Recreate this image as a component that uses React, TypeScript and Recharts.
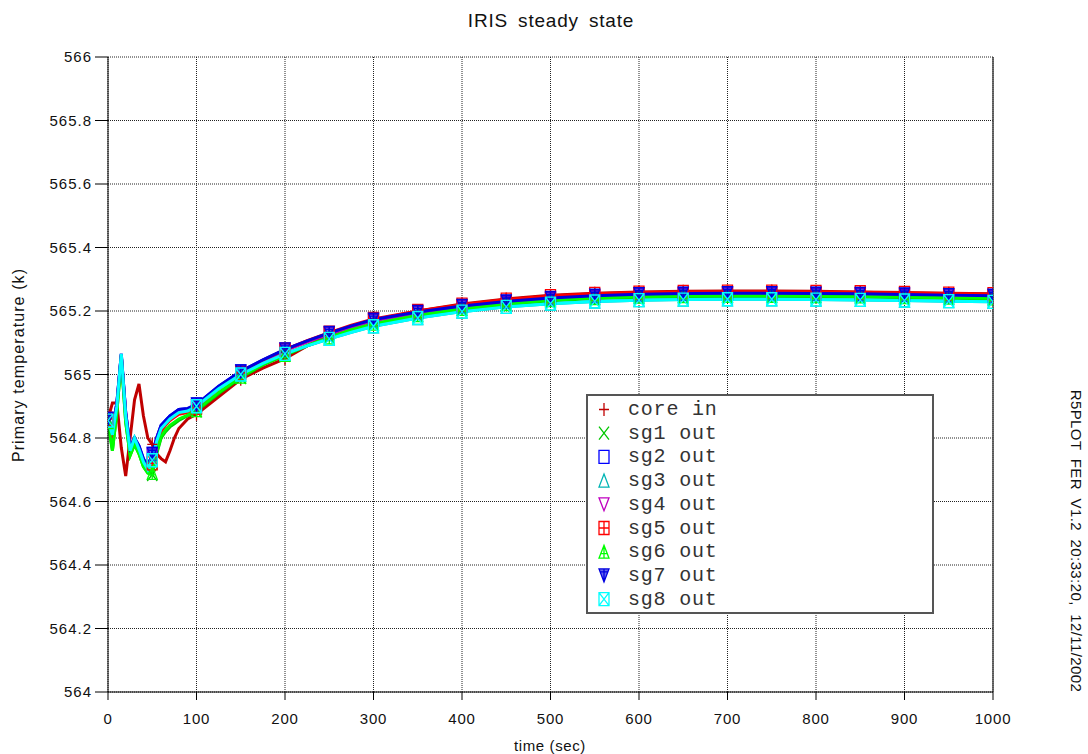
import React from 'react';
import { LineChart, Line, XAxis, YAxis, CartesianGrid, ReferenceLine } from 'recharts';

// time (sec)
const times = [0, 5, 10, 15, 20, 25, 30, 35, 40, 45, 50, 55, 60, 65, 70, 75, 80, 90, 100, 125, 150, 175, 200, 225, 250, 275, 300, 350, 400, 450, 500, 550, 600, 650, 700, 750, 800, 850, 900, 950, 1000];

// primary temperature (k)
const coreIn = [564.86, 564.91, 564.91, 564.77, 564.68, 564.8, 564.92, 564.97, 564.87, 564.8, 564.78, 564.75, 564.735, 564.725, 564.76, 564.8, 564.83, 564.86, 564.875, 564.93, 564.985, 565.02, 565.05, 565.09, 565.125, 565.15, 565.172, 565.2, 565.222, 565.238, 565.25, 565.256, 565.26, 565.262, 565.263, 565.263, 565.262, 565.26, 565.258, 565.256, 565.254];
const sg1Out = [564.85, 564.76, 564.88, 565.05, 564.85, 564.745, 564.78, 564.75, 564.71, 564.69, 564.685, 564.75, 564.8, 564.82, 564.835, 564.845, 564.855, 564.87, 564.885, 564.94, 564.99, 565.03, 565.06, 565.09, 565.115, 565.14, 565.158, 565.185, 565.205, 565.22, 565.232, 565.239, 565.243, 565.245, 565.246, 565.246, 565.245, 565.244, 565.242, 565.24, 565.238];
const sg2Out = [564.86, 564.82, 564.91, 565.065, 564.88, 564.77, 564.8, 564.775, 564.735, 564.71, 564.75, 564.8, 564.84, 564.855, 564.87, 564.88, 564.89, 564.892, 564.905, 564.962, 565.01, 565.045, 565.078, 565.105, 565.13, 565.152, 565.172, 565.196, 565.215, 565.229, 565.24, 565.247, 565.252, 565.254, 565.255, 565.255, 565.254, 565.253, 565.251, 565.249, 565.247];
const sg3Out = [564.855, 564.81, 564.9, 565.06, 564.87, 564.76, 564.8, 564.765, 564.725, 564.7, 564.73, 564.79, 564.83, 564.845, 564.86, 564.87, 564.88, 564.885, 564.9, 564.955, 565, 565.035, 565.065, 565.09, 565.112, 565.133, 565.152, 565.178, 565.198, 565.213, 565.223, 565.23, 565.234, 565.236, 565.237, 565.237, 565.236, 565.235, 565.233, 565.231, 565.229];
const sg4Out = [564.86, 564.82, 564.91, 565.06, 564.88, 564.77, 564.8, 564.77, 564.73, 564.71, 564.745, 564.8, 564.835, 564.85, 564.865, 564.875, 564.885, 564.89, 564.9, 564.958, 565.007, 565.042, 565.075, 565.102, 565.127, 565.149, 565.169, 565.193, 565.212, 565.226, 565.237, 565.244, 565.249, 565.251, 565.252, 565.252, 565.251, 565.25, 565.248, 565.246, 565.244];
const sg5Out = [564.86, 564.8, 564.9, 565.06, 564.87, 564.76, 564.79, 564.765, 564.72, 564.7, 564.72, 564.78, 564.82, 564.84, 564.855, 564.865, 564.875, 564.88, 564.895, 564.955, 565.005, 565.045, 565.078, 565.107, 565.132, 565.155, 565.175, 565.2, 565.22, 565.236, 565.247, 565.254, 565.258, 565.26, 565.261, 565.261, 565.26, 565.259, 565.257, 565.255, 565.253];
const sg6Out = [564.85, 564.76, 564.88, 565.05, 564.85, 564.745, 564.78, 564.75, 564.71, 564.69, 564.69, 564.755, 564.805, 564.825, 564.84, 564.85, 564.86, 564.872, 564.888, 564.943, 564.993, 565.032, 565.062, 565.092, 565.117, 565.141, 565.16, 565.187, 565.207, 565.222, 565.234, 565.241, 565.245, 565.247, 565.248, 565.248, 565.247, 565.246, 565.244, 565.242, 565.24];
const sg7Out = [564.86, 564.82, 564.91, 565.065, 564.88, 564.77, 564.8, 564.775, 564.735, 564.71, 564.75, 564.8, 564.84, 564.855, 564.87, 564.88, 564.89, 564.893, 564.906, 564.963, 565.01, 565.046, 565.079, 565.106, 565.131, 565.153, 565.173, 565.197, 565.216, 565.23, 565.241, 565.248, 565.253, 565.255, 565.256, 565.256, 565.255, 565.254, 565.252, 565.25, 565.248];
const sg8Out = [564.855, 564.81, 564.9, 565.065, 564.87, 564.76, 564.8, 564.765, 564.725, 564.7, 564.73, 564.79, 564.83, 564.845, 564.86, 564.87, 564.88, 564.885, 564.9, 564.955, 565, 565.035, 565.065, 565.09, 565.112, 565.133, 565.152, 565.178, 565.198, 565.213, 565.223, 565.23, 565.234, 565.236, 565.237, 565.237, 565.236, 565.235, 565.233, 565.231, 565.229];

const seriesNames = ['core in', 'sg1 out', 'sg2 out', 'sg3 out', 'sg4 out', 'sg5 out', 'sg6 out', 'sg7 out', 'sg8 out'];
const seriesValues = [coreIn, sg1Out, sg2Out, sg3Out, sg4Out, sg5Out, sg6Out, sg7Out, sg8Out];
const seriesColors = ['#c00000', '#00c800', '#0000ff', '#00b4b4', '#c000c0', '#ff0000', '#00ff00', '#0000e0', '#00ffff'];
const markerKinds = ['plus', 'cross', 'square', 'triUp', 'triDown', 'squarePlus', 'triUpBar', 'triDownBar', 'squareX'];

const xTicks = [0, 100, 200, 300, 400, 500, 600, 700, 800, 900, 1000];
const yTicks = [564, 564.2, 564.4, 564.6, 564.8, 565, 565.2, 565.4, 565.6, 565.8, 566];

const chartData = times.map((t, i) => {
  const row: Record<string, number> = { time: t };
  seriesNames.forEach((name, s) => {
    row[name] = seriesValues[s][i];
  });
  return row;
});

const sans = "'Liberation Sans', Arial, sans-serif";

function Marker({ kind, cx, cy, color }: { kind: string; cx: number; cy: number; color: string }) {
  const w = 5;
  const h = 6.5;
  const l = cx - w, r = cx + w, t = cy - h, b = cy + h;
  let d = '';
  let fill = 'none';
  switch (kind) {
    case 'plus':
      d = `M${cx},${t}V${b}M${l},${cy}H${r}`;
      break;
    case 'cross':
      d = `M${l},${t}L${r},${b}M${r},${t}L${l},${b}`;
      break;
    case 'square':
      d = `M${l},${t}H${r}V${b}H${l}Z`;
      break;
    case 'triUp':
      d = `M${cx},${t}L${r},${b}H${l}Z`;
      break;
    case 'triDown':
      d = `M${l},${t}H${r}L${cx},${b}Z`;
      break;
    case 'squarePlus':
      d = `M${l},${t}H${r}V${b}H${l}ZM${cx},${t}V${b}M${l},${cy}H${r}`;
      break;
    case 'triUpBar':
      d = `M${cx},${t}L${r},${b}H${l}ZM${cx},${t}V${b}M${l + 2},${cy + 2}H${r - 2}`;
      break;
    case 'triDownBar':
      d = `M${l},${t}H${r}L${cx},${b}ZM${cx},${t}V${b}M${l + 1},${t + 3}H${r - 1}`;
      fill = color;
      break;
    case 'squareX':
      d = `M${l},${t}H${r}V${b}H${l}ZM${l},${t}L${r},${b}M${r},${t}L${l},${b}`;
      break;
  }
  return <path d={d} stroke={color} strokeWidth={1.3} fill={fill} fillOpacity={0.6} />;
}

function makeDot(kind: string, color: string, name: string) {
  return (props: any) => {
    const { cx, cy, payload, index } = props;
    const key = `${name}-${index}`;
    if (cx == null || cy == null || payload.time % 50 !== 0) return <g key={key} />;
    return (
      <g key={key}>
        <Marker kind={kind} cx={cx} cy={cy} color={color} />
      </g>
    );
  };
}

export default function App() {
  const legendX = 587;
  const legendY = 395;
  const rowH = 23.7;

  return (
    <div style={{ position: 'absolute', left: 0, top: 0, width: 1088, height: 754, background: '#fff' }}>
      <LineChart
        width={1088}
        height={754}
        data={chartData}
        margin={{ top: 57, right: 95, left: 48, bottom: 32 }}
      >
        <CartesianGrid stroke="#222" strokeDasharray="1 1" horizontalValues={yTicks} verticalValues={xTicks} />
        <XAxis
          dataKey="time"
          type="number"
          domain={[0, 1000]}
          ticks={xTicks}
          height={30}
          tickSize={8}
          tickMargin={13}
          stroke="#000"
          tick={{ fill: '#111', fontSize: 15, fontFamily: sans, letterSpacing: 0.8 }}
          allowDataOverflow
        />
        <YAxis
          type="number"
          domain={[564, 566]}
          ticks={yTicks}
          width={60}
          tickSize={13}
          tickMargin={3}
          stroke="#000"
          tick={{ fill: '#111', fontSize: 15, fontFamily: sans, letterSpacing: 1 }}
          allowDataOverflow
        />
        <ReferenceLine x={1000} stroke="#444" strokeWidth={1.5} />
        {seriesNames.map((name, s) => (
          <Line
            key={name}
            dataKey={name}
            type="linear"
            stroke={seriesColors[s]}
            strokeWidth={3}
            dot={makeDot(markerKinds[s], seriesColors[s], name)}
            activeDot={false}
            isAnimationActive={false}
          />
        ))}
      </LineChart>
      <svg width={1088} height={754} style={{ position: 'absolute', left: 0, top: 0, pointerEvents: 'none' }}>
        <text x={551} y={20} textAnchor="middle" dominantBaseline="central" fontFamily={sans} fontSize={19} fill="#111" letterSpacing={0.8} wordSpacing={4}>
          IRIS steady state
        </text>
        <text x={550} y={745} textAnchor="middle" dominantBaseline="central" fontFamily={sans} fontSize={15} fill="#111" letterSpacing={0.6}>
          time (sec)
        </text>
        <text x={18} y={365} textAnchor="middle" dominantBaseline="central" fontFamily={sans} fontSize={16} fill="#111" letterSpacing={1.1} transform="rotate(-90, 18, 365)">
          Primary temperature (k)
        </text>
        <text x={1076} y={541} textAnchor="middle" dominantBaseline="central" fontFamily={sans} fontSize={15} fill="#111" letterSpacing={0.4} wordSpacing={4} transform="rotate(90, 1076, 541)">
          R5PLOT FER V1.2 20:33:20, 12/11/2002
        </text>
        <rect x={legendX} y={legendY} width={346} height={218} fill="#fff" stroke="#555" strokeWidth={2} />
        {seriesNames.map((name, s) => {
          const cy = legendY + 14.5 + s * rowH;
          return (
            <g key={name}>
              <Marker kind={markerKinds[s]} cx={604} cy={cy} color={seriesColors[s]} />
              <text x={628} y={cy} dominantBaseline="central" fontFamily="'Liberation Mono', 'Courier New', monospace" fontSize={20} fill="#333" letterSpacing={0.8}>
                {name}
              </text>
            </g>
          );
        })}
      </svg>
    </div>
  );
}
